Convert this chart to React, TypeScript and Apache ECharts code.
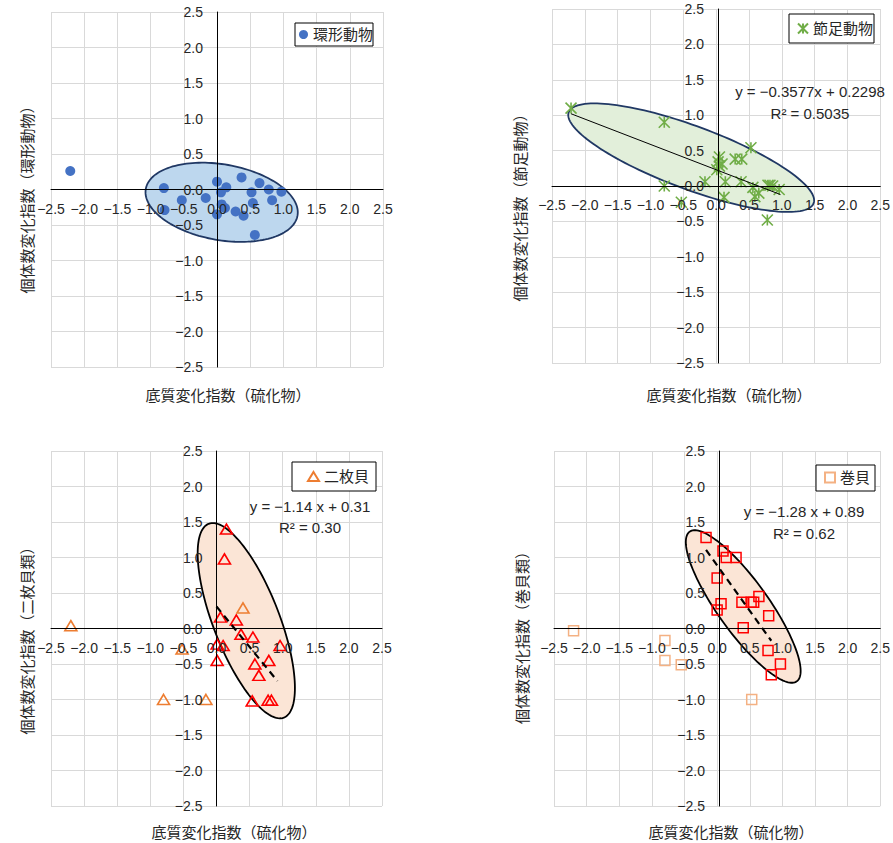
import React, { useEffect, useRef } from "react";
import * as echarts from "echarts";

// ---- axis values ----
const AXIS_MIN = -2.5;
const AXIS_MAX = 2.5;
const AXIS_STEP = 0.5;

// ---- data (x: 底質変化指数, y: 個体数変化指数) ----
const annelidPoints = [
  [-2.21, 0.26], [-0.8, 0.02], [-0.79, -0.29], [-0.53, -0.15], [-0.17, -0.12],
  [0.0, 0.11], [0.0, -0.35], [0.06, -0.04], [0.14, 0.03], [0.07, -0.21],
  [0.12, -0.26], [0.28, -0.31], [0.37, 0.17], [0.4, -0.37], [0.52, -0.04],
  [0.54, -0.19], [0.57, -0.64], [0.64, 0.09], [0.78, 0.0], [0.83, -0.15],
  [0.97, -0.03],
];

const arthropodPoints = [
  [-2.21, 1.1], [-0.79, 0.9], [-0.79, 0.0], [-0.53, -0.23], [-0.17, 0.06],
  [0.01, 0.23], [0.03, 0.34], [0.05, 0.28], [0.05, 0.41], [0.09, 0.31],
  [0.14, 0.06], [0.12, -0.16], [0.29, 0.38], [0.39, 0.38], [0.38, 0.06],
  [0.53, 0.54], [0.56, -0.02], [0.59, -0.15], [0.65, -0.1], [0.79, 0.01],
  [0.82, 0.01], [0.86, 0.0], [0.96, -0.05], [0.78, -0.48],
];

const bivalveFitPoints = [
  [0.15, 1.4], [0.12, 0.98], [0.06, 0.16], [0.3, 0.12], [0.37, -0.08],
  [0.55, -0.12], [0.01, -0.22], [0.1, -0.24], [0.01, -0.45], [0.58, -0.5],
  [0.79, -0.45], [0.64, -0.66], [0.96, -0.24], [0.54, -1.02], [0.78, -1.01],
  [0.83, -1.01],
];
const bivalveOtherPoints = [
  [0.4, 0.29], [-2.2, 0.04], [-0.8, -1.0], [-0.16, -1.0], [-0.52, -0.29],
];

const gastropodFitPoints = [
  [-0.17, 1.28], [0.09, 1.09], [0.14, 1.0], [0.29, 1.0], [0.0, 0.71],
  [0.06, 0.35], [0.0, 0.26], [0.38, 0.37], [0.52, 0.37], [0.56, 0.37],
  [0.64, 0.45], [0.79, 0.18], [0.4, 0.01], [0.78, -0.31], [0.97, -0.5],
  [0.83, -0.65],
];
const gastropodOtherPoints = [
  [-2.2, -0.03], [-0.8, -0.17], [-0.8, -0.45], [-0.55, -0.51], [0.53, -1.0],
];

// ---- regression lines (coefficients shown on the chart) ----
const arthropodTrend = { slope: -0.3577, intercept: 0.2298, from: -2.21, to: 0.98 };
const bivalveTrend = { slope: -1.14, intercept: 0.31, from: 0.0, to: 0.92 };
const gastropodTrend = { slope: -1.28, intercept: 0.89, from: -0.17, to: 0.83 };

const arthropodEq = ["y = −0.3577x + 0.2298", "R² = 0.5035"];
const bivalveEq = ["y = −1.14 x + 0.31", "R² = 0.30"];
const gastropodEq = ["y = −1.28 x + 0.89", "R² = 0.62"];

// ---- ellipses: [centerX, centerY, semiMajor, semiMinor, angleDeg] (data units) ----
const annelidEllipse = [0.07, -0.18, 1.16, 0.57, 10];
const arthropodEllipse = [-0.38, 0.4, 1.99, 0.48, 20.4];
const bivalveEllipse = [0.45, 0.11, 1.57, 0.5, 68.8];
const gastropodEllipse = [0.4, 0.31, 1.41, 0.39, 54.4];

// ---- texts ----
const xTitle = "底質変化指数（硫化物）";
const yTitles = [
  "個体数変化指数（環形動物）",
  "個体数変化指数（節足動物）",
  "個体数変化指数（二枚貝類）",
  "個体数変化指数（巻貝類）",
];
const legendNames = ["環形動物", "節足動物", "二枚貝", "巻貝"];

const FONT = "'Liberation Sans', 'Noto Sans CJK JP', sans-serif";
const TEXT_COLOR = "#262626";

const fmt = (v: number) => (v < 0 ? "−" : "") + Math.abs(v).toFixed(1);
const trendData = (t: { slope: number; intercept: number; from: number; to: number }) => [
  [t.from, t.slope * t.from + t.intercept],
  [t.to, t.slope * t.to + t.intercept],
];

export default function App() {
  const ref = useRef<HTMLDivElement>(null);

  useEffect(() => {
    document.body.style.margin = "0";
    if (!ref.current) return;
    const chart = echarts.init(ref.current, undefined, { renderer: "svg" });

    const grids = [
      { left: 51, top: 12, width: 332, height: 355 },
      { left: 552, top: 9, width: 332, height: 354 },
      { left: 51, top: 451, width: 331, height: 355 },
      { left: 554, top: 451, width: 330, height: 355 },
    ];

    const xAxes: any[] = [];
    const yAxes: any[] = [];
    grids.forEach((gr, g) => {
      // A: grid lines only (below ellipse)
      xAxes.push({
        type: "value", gridIndex: g, min: AXIS_MIN, max: AXIS_MAX, interval: AXIS_STEP,
        position: "top", z: 0,
        axisLine: { show: false, onZero: false }, axisTick: { show: false },
        axisLabel: { show: false },
        splitLine: { show: true, lineStyle: { color: "#d9d9d9", width: 1 } },
      });
      // B: zero-crossing axis + labels (above ellipse); axis range is symmetric so zero is the middle
      xAxes.push({
        type: "value", gridIndex: g, min: AXIS_MIN, max: AXIS_MAX, interval: AXIS_STEP,
        position: "bottom", offset: -gr.height / 2, z: 5,
        axisLine: { show: true, onZero: false, lineStyle: { color: "#000", width: 1 } },
        axisTick: { show: false },
        axisLabel: { show: true, margin: 12, fontSize: 14, fontFamily: FONT, color: TEXT_COLOR, formatter: fmt },
        splitLine: { show: false },
      });
      yAxes.push({
        type: "value", gridIndex: g, min: AXIS_MIN, max: AXIS_MAX, interval: AXIS_STEP,
        position: "right", z: 0,
        axisLine: { show: false, onZero: false }, axisTick: { show: false },
        axisLabel: { show: false },
        splitLine: { show: true, lineStyle: { color: "#d9d9d9", width: 1 } },
      });
      yAxes.push({
        type: "value", gridIndex: g, min: AXIS_MIN, max: AXIS_MAX, interval: AXIS_STEP,
        position: "left", offset: -gr.width / 2, z: 5,
        axisLine: { show: true, onZero: false, lineStyle: { color: "#000", width: 1 } },
        axisTick: { show: false },
        axisLabel: { show: true, margin: 14, fontSize: 14, fontFamily: FONT, color: TEXT_COLOR, formatter: fmt },
        splitLine: { show: false },
      });
    });

    const ellipseSeries = (g: number, params: number[], fill: string, stroke: string) => ({
      type: "custom",
      xAxisIndex: 2 * g,
      yAxisIndex: 2 * g,
      z: 1,
      silent: true,
      encode: { x: 0, y: 1 },
      data: [params],
      renderItem: (_p: any, api: any) => {
        const c = api.coord([api.value(0), api.value(1)]);
        const s = api.size([1, 1]);
        const a = api.value(2) * s[0];
        const b = api.value(3) * s[0];
        const th = (api.value(4) * Math.PI) / 180;
        const pts: number[][] = [];
        const n = 144;
        for (let i = 0; i < n; i++) {
          const t = (i / n) * Math.PI * 2;
          pts.push([
            c[0] + a * Math.cos(t) * Math.cos(th) - b * Math.sin(t) * Math.sin(th),
            c[1] + a * Math.cos(t) * Math.sin(th) + b * Math.sin(t) * Math.cos(th),
          ]);
        }
        return {
          type: "polygon",
          shape: { points: pts },
          style: { fill, stroke, lineWidth: 1.8 },
        };
      },
    });

    const trendSeries = (g: number, t: any, dashed: boolean) => ({
      type: "line",
      name: "trend" + g,
      xAxisIndex: 2 * g,
      yAxisIndex: 2 * g,
      z: 4,
      silent: true,
      symbol: "none",
      data: trendData(t),
      lineStyle: dashed
        ? { color: "#000", width: 2.2, type: [7, 5] }
        : { color: "#000", width: 1, type: "solid" },
    });

    const asterisk = "path://M0,0L10,10M10,0L0,10M5,0L5,10";

    const series: any[] = [
      ellipseSeries(0, annelidEllipse, "#bdd7ee", "#203864"),
      {
        type: "scatter", name: legendNames[0], xAxisIndex: 0, yAxisIndex: 0, z: 3,
        symbol: "circle", symbolSize: 10, data: annelidPoints,
        itemStyle: { color: "#4472c4", opacity: 1 },
      },
      ellipseSeries(1, arthropodEllipse, "#e2efda", "#203864"),
      trendSeries(1, arthropodTrend, false),
      {
        type: "scatter", name: legendNames[1], xAxisIndex: 2, yAxisIndex: 2, z: 3,
        symbol: asterisk, symbolSize: 11, data: arthropodPoints,
        itemStyle: { color: "transparent", borderColor: "#70ad47", borderWidth: 1.6, opacity: 1 },
      },
      ellipseSeries(2, bivalveEllipse, "#fbe5d6", "#000"),
      trendSeries(2, bivalveTrend, true),
      {
        type: "scatter", name: "二枚貝（回帰）", xAxisIndex: 4, yAxisIndex: 4, z: 3,
        symbol: "triangle", symbolSize: [12, 10], data: bivalveFitPoints,
        itemStyle: { color: "transparent", borderColor: "#ff0000", borderWidth: 1.6, opacity: 1 },
      },
      {
        type: "scatter", name: legendNames[2], xAxisIndex: 4, yAxisIndex: 4, z: 3,
        symbol: "triangle", symbolSize: [12, 10], data: bivalveOtherPoints,
        itemStyle: { color: "transparent", borderColor: "#ed7d31", borderWidth: 1.6, opacity: 1 },
      },
      ellipseSeries(3, gastropodEllipse, "#fbe5d6", "#000"),
      trendSeries(3, gastropodTrend, true),
      {
        type: "scatter", name: "巻貝（回帰）", xAxisIndex: 6, yAxisIndex: 6, z: 3,
        symbol: "rect", symbolSize: 10, data: gastropodFitPoints,
        itemStyle: { color: "transparent", borderColor: "#ff0000", borderWidth: 1.5, opacity: 1 },
      },
      {
        type: "scatter", name: legendNames[3], xAxisIndex: 6, yAxisIndex: 6, z: 3,
        symbol: "rect", symbolSize: 10, data: gastropodOtherPoints,
        itemStyle: { color: "transparent", borderColor: "#f4b183", borderWidth: 1.5, opacity: 1 },
      },
    ];

    const legendBase = {
      orient: "horizontal",
      borderColor: "#000",
      borderWidth: 1,
      backgroundColor: "#fff",
      itemGap: 0,
      selectedMode: false,
      textStyle: { fontSize: 15, fontFamily: FONT, color: TEXT_COLOR },
      z: 6,
    };
    const legends = [
      { ...legendBase, data: [legendNames[0]], left: 295, top: 23, padding: [4, 0, 4, 4], itemWidth: 9, itemHeight: 9 },
      { ...legendBase, data: [legendNames[1]], left: 789, top: 14, padding: [7, 1, 7, 8], itemWidth: 10, itemHeight: 10 },
      { ...legendBase, data: [legendNames[2]], left: 292, top: 462, padding: [7, 7, 7, 15], itemWidth: 11, itemHeight: 9 },
      { ...legendBase, data: [legendNames[3]], left: 816, top: 465, padding: [5, 5, 6, 8], itemWidth: 10, itemHeight: 10 },
    ];

    const txt = (x: number, y: number, text: string, size = 15, rotation = 0) => ({
      type: "text",
      x, y, rotation,
      z: 10,
      silent: true,
      style: {
        text, fill: TEXT_COLOR, font: `${size}px ${FONT}`,
        align: "center", verticalAlign: "middle",
      },
    });

    const graphic = [
      txt(228, 395, xTitle),
      txt(729, 395, xTitle),
      txt(234, 832, xTitle),
      txt(731, 832, xTitle),
      txt(27, 196, yTitles[0], 15, Math.PI / 2),
      txt(520, 204, yTitles[1], 15, Math.PI / 2),
      txt(27, 637, yTitles[2], 15, Math.PI / 2),
      txt(522, 634, yTitles[3], 15, Math.PI / 2),
      txt(810, 91, arthropodEq[0]),
      txt(810, 113, arthropodEq[1]),
      txt(310, 506, bivalveEq[0]),
      txt(310, 527, bivalveEq[1]),
      txt(804, 511, gastropodEq[0]),
      txt(804, 533, gastropodEq[1]),
    ];

    chart.setOption({
      animation: false,
      backgroundColor: "#fff",
      grid: grids.map((g) => ({ ...g, containLabel: false })),
      xAxis: xAxes,
      yAxis: yAxes,
      legend: legends,
      series,
      graphic,
    });

    return () => chart.dispose();
  }, []);

  return <div ref={ref} style={{ width: 893, height: 843 }} />;
}
